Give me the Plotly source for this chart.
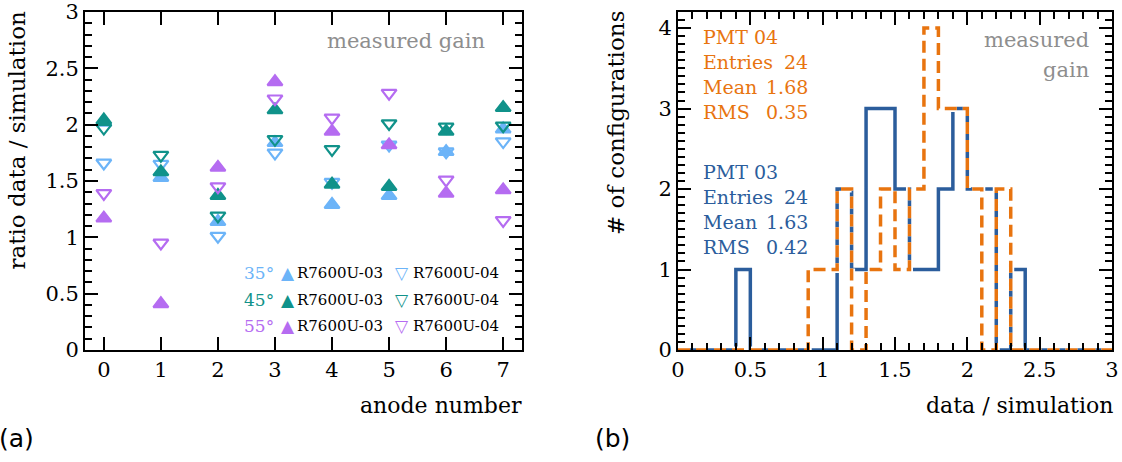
import numpy as np
import plotly.graph_objects as go

# ---------------- data ----------------
anodes = [0, 1, 2, 3, 4, 5, 6, 7]
r35_pmt03 = [2.02, 1.53, 1.14, 1.84, 1.29, 1.37, 1.76, 1.96]
r35_pmt04 = [1.66, 1.65, 1.01, 1.75, 1.49, 1.82, 1.76, 1.85]
r45_pmt03 = [2.04, 1.58, 1.37, 2.13, 1.47, 1.45, 1.94, 2.15]
r45_pmt04 = [1.97, 1.73, 1.19, 1.87, 1.78, 2.01, 1.98, 1.99]
r55_pmt03 = [1.17, 0.41, 1.62, 2.38, 1.94, 1.82, 1.39, 1.42]
r55_pmt04 = [1.39, 0.95, 1.45, 2.23, 2.06, 2.28, 1.51, 1.15]

bin_edges = [round(0.1 * i, 1) for i in range(31)]
pmt03_counts = [0, 0, 0, 0, 1, 0, 0, 0, 0, 0, 0, 2, 1, 3, 3, 2, 1, 1, 2, 3, 2, 2, 0, 1, 0, 0, 0, 0, 0, 0]
pmt04_counts = [0, 0, 0, 0, 0, 0, 0, 0, 0, 1, 1, 2, 0, 1, 2, 1, 2, 4, 3, 3, 2, 0, 2, 0, 0, 0, 0, 0, 0, 0]

angles = ["35°", "45°", "55°"]
pmt_names = ["R7600U-03", "R7600U-04"]
stats04 = [("PMT 04", ""), ("Entries", "24"), ("Mean", "1.68"), ("RMS", "0.35")]
stats03 = [("PMT 03", ""), ("Entries", "24"), ("Mean", "1.63"), ("RMS", "0.42")]

# ---------------- style ----------------
W, H = 1122, 462
C35, C45, C55 = "#6cb4f8", "#10928a", "#b56cf1"
BLUE, ORANGE = "#2b5d9c", "#e8740f"
GRAY = "#8e8e8e"
SERIF = "DejaVu Serif"

def px(x):
    return x / W

def py(y):
    return 1 - y / H

fig = go.Figure()

series = [
    (r35_pmt03, C35, "triangle-up"), (r35_pmt04, C35, "triangle-down-open"),
    (r45_pmt03, C45, "triangle-up"), (r45_pmt04, C45, "triangle-down-open"),
    (r55_pmt03, C55, "triangle-up"), (r55_pmt04, C55, "triangle-down-open"),
]
for vals, col, sym in series:
    fig.add_trace(go.Scatter(
        x=anodes, y=vals, mode="markers", xaxis="x", yaxis="y",
        marker=dict(symbol=sym, size=13, color=col, line=dict(color=col, width=2.2)),
        showlegend=False, hoverinfo="skip", cliponaxis=False))

# histograms (step lines)
y03 = pmt03_counts + [pmt03_counts[-1]]
y04 = pmt04_counts + [pmt04_counts[-1]]
fig.add_trace(go.Scatter(x=bin_edges, y=y03, mode="lines", line_shape="hv",
                         line=dict(color="white", width=7), xaxis="x2", yaxis="y2",
                         showlegend=False, hoverinfo="skip"))
fig.add_trace(go.Scatter(x=bin_edges, y=y03, mode="lines", line_shape="hv",
                         line=dict(color=BLUE, width=3.5), xaxis="x2", yaxis="y2",
                         showlegend=False, hoverinfo="skip"))
fig.add_trace(go.Scatter(x=bin_edges, y=y04, mode="lines", line_shape="hv",
                         line=dict(color="white", width=7, dash="12px,6px"), xaxis="x2", yaxis="y2",
                         showlegend=False, hoverinfo="skip"))
fig.add_trace(go.Scatter(x=bin_edges, y=y04, mode="lines", line_shape="hv",
                         line=dict(color=ORANGE, width=3.5, dash="12px,6px"), xaxis="x2", yaxis="y2",
                         showlegend=False, hoverinfo="skip"))

tickfont = dict(family=SERIF, size=21, color="black")
common = dict(showline=True, linecolor="black", linewidth=2, mirror="ticks",
              ticks="inside", ticklen=13, tickwidth=2, tickcolor="black",
              showgrid=False, zeroline=False, tickfont=tickfont, automargin=False)
minor_style = dict(ticks="inside", ticklen=7, tickwidth=2, tickcolor="black")

ydom = [py(350), py(12)]
fig.update_layout(
    width=W, height=H, margin=dict(l=0, r=0, t=0, b=0, autoexpand=False),
    paper_bgcolor="white", plot_bgcolor="white",
    xaxis=dict(domain=[px(85), px(522)], range=[-0.33, 7.33], tickmode="array",
               tickvals=anodes, anchor="y", **common),
    yaxis=dict(domain=ydom, range=[0, 3], dtick=0.5, anchor="x",
               minor=dict(dtick=0.1, **minor_style), **common),
    xaxis2=dict(domain=[px(678), px(1112)], range=[0, 3], dtick=0.5, anchor="y2",
                minor=dict(dtick=0.1, **minor_style), **common),
    yaxis2=dict(domain=ydom, range=[0, 4.2], dtick=1, anchor="x2",
                minor=dict(dtick=0.1, **minor_style), **common),
)

ann = []
def text(x, y, t, size=19, color="black", xanchor="left", yanchor="middle", family=SERIF, angle=0):
    ann.append(dict(x=px(x), y=py(y), xref="paper", yref="paper", text=t, showarrow=False,
                    xanchor=xanchor, yanchor=yanchor, textangle=angle, borderpad=0,
                    font=dict(family=family, size=size, color=color)))

# axis titles
text(523, 405, "anode number", size=22, xanchor="right")
text(16, 10, "ratio data / simulation", size=23, xanchor="center", yanchor="top", angle=-90)
text(1114, 405, "data / simulation", size=22, xanchor="right")
text(616, 10, "# of configurations", size=23, xanchor="center", yanchor="top", angle=-90)

# panel labels
text(-2, 438, "(a)", size=25, family="DejaVu Sans")
text(594, 438, "(b)", size=25, family="DejaVu Sans")

# "measured gain"
text(486, 41, "measured gain", size=21, color=GRAY, xanchor="right")
text(1090, 40, "measured", size=21, color=GRAY, xanchor="right")
text(1090, 70, "gain", size=21, color=GRAY, xanchor="right")

# legend of left panel
for i, (ang, col) in enumerate(zip(angles, [C35, C45, C55])):
    yy = 273 + 26.5 * i
    text(275, yy, ang, size=17, color=col, xanchor="right")
    text(288, yy, "▲", size=17, color=col, xanchor="center", family="DejaVu Sans")
    text(296, yy, pmt_names[0], size=15)
    text(402, yy, "▽", size=17, color=col, xanchor="center", family="DejaVu Sans")
    text(412, yy, pmt_names[1], size=15)

# stats boxes
for block, col, y0 in [(stats04, ORANGE, 37), (stats03, BLUE, 172)]:
    for j, (lab, val) in enumerate(block):
        yy = y0 + 25 * j
        text(702, yy, lab, size=19, color=col)
        if val:
            text(809, yy, val, size=19, color=col, xanchor="right")

fig.update_layout(annotations=ann)
fig.write_html("out.html", config={"displayModeBar": False},
               post_script="document.body.style.margin='0';document.body.style.overflow='hidden';")
